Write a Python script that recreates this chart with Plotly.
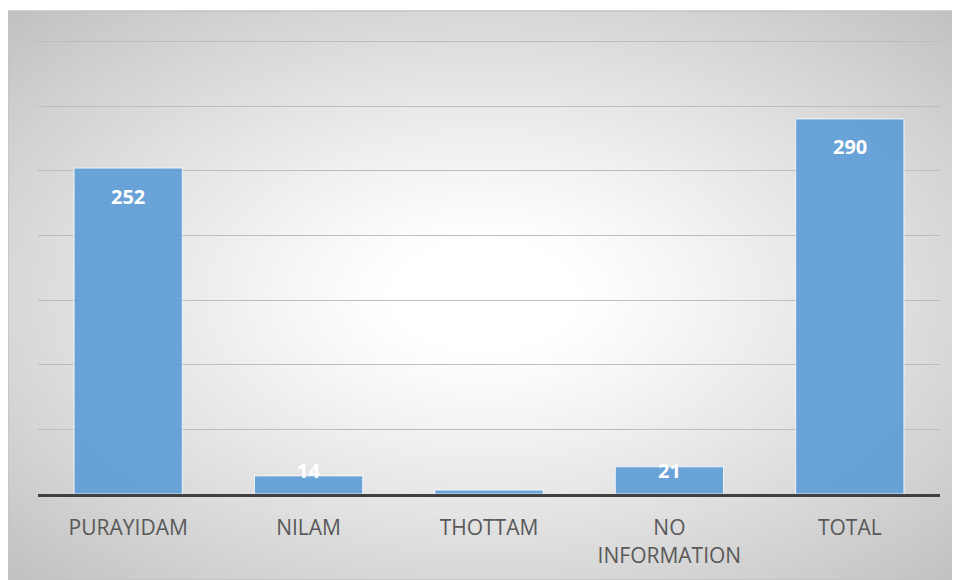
import base64, struct, zlib
import numpy as np
import plotly.graph_objects as go

categories = ["PURAYIDAM", "NILAM", "THOTTAM", "NO<br>INFORMATION", "TOTAL"]
values = [252, 14, 3, 21, 290]
label_shown = [True, True, False, True, True]
y_max = 350
y_step = 50

# page body has an 8px margin, so the figure is 8px smaller than the window
W, H = 952, 572
L, R, T, B = 30, 20, 32, 86
plot_h = H - T - B
plot_w = W - L - R
y_top = y_max * 1.003
px_per_unit = plot_h / y_top


def png_data_url(arr):
    h, w, _ = arr.shape
    raw = b"".join(b"\x00" + arr[i].tobytes() for i in range(h))

    def chunk(tag, data):
        c = tag + data
        return struct.pack(">I", len(data)) + c + struct.pack(">I", zlib.crc32(c) & 0xFFFFFFFF)

    png = b"\x89PNG\r\n\x1a\n"
    png += chunk(b"IHDR", struct.pack(">IIBBBBB", w, h, 8, 2, 0, 0, 0))
    png += chunk(b"IDAT", zlib.compress(raw, 9))
    png += chunk(b"IEND", b"")
    return "data:image/png;base64," + base64.b64encode(png).decode()


# radial gradient background (white centre, grey edges)
gw, gh = 240, 143
xs = np.linspace(-1, 1, gw)[None, :]
ys = np.linspace(-1, 1, gh)[:, None]
d = np.sqrt(xs ** 2 + ys ** 2) / np.sqrt(2)
t = np.clip((d - 0.15) / 0.85, 0, 1) ** 1.1
c = (255 - (255 - 194) * t).astype(np.uint8)
img = np.stack([c, c, c], axis=-1)

box_x0, box_y0 = 0, 3
img_x = (box_x0 - L) / plot_w
img_y = (H - B - box_y0) / plot_h
img_sx = (W - box_x0) / plot_w
img_sy = (H - box_y0) / plot_h

fig = go.Figure()
fig.add_trace(go.Bar(
    x=categories, y=values,
    marker=dict(color="rgba(91,155,213,0.9)", line=dict(color="rgba(255,255,255,0.8)", width=1)),
    hoverinfo="skip",
))

annotations = []
for cat, v, show in zip(categories, values, label_shown):
    if not show:
        continue
    if v * px_per_unit > 52:
        yy, shift = v, -28
    else:
        yy, shift = 0, 24
    annotations.append(dict(
        x=cat, y=yy, yshift=shift, text=str(v), showarrow=False,
        xref="x", yref="y", yanchor="middle",
        font=dict(family="Open Sans", size=20, color="white", weight="bold"),
    ))

fig.update_layout(
    width=W, height=H,
    margin=dict(l=L, r=R, t=T, b=B),
    paper_bgcolor="white",
    plot_bgcolor="rgba(0,0,0,0)",
    bargap=0.4,
    showlegend=False,
    annotations=annotations,
    images=[dict(
        source=png_data_url(img), xref="paper", yref="paper",
        x=img_x, y=img_y, sizex=img_sx, sizey=img_sy,
        xanchor="left", yanchor="top", sizing="stretch", layer="below",
    )],
    shapes=[dict(
        type="rect", xref="paper", yref="paper",
        x0=img_x, y0=img_y - img_sy, x1=img_x + img_sx, y1=img_y,
        line=dict(color="#c4c4c4", width=1.5), layer="below",
    )],
    xaxis=dict(
        showline=True, linecolor="#404040", linewidth=3,
        ticks="", ticklabelstandoff=13,
        tickfont=dict(family="Open Sans", size=21, color="#595959"),
    ),
    yaxis=dict(
        range=[0, y_top], tick0=0, dtick=y_step, showticklabels=False,
        showgrid=True, gridcolor="#bdbdbd", gridwidth=1.3,
        zeroline=False, showline=False,
    ),
)

fig.write_html("out.html")
